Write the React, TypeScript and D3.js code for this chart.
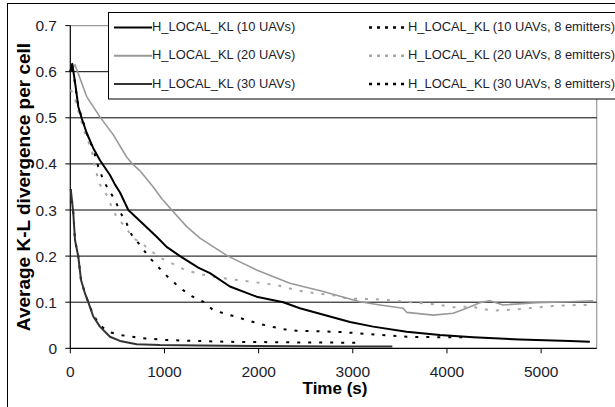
import React from "react";
import * as d3 from "d3";

const xTicks = [0, 1000, 2000, 3000, 4000, 5000];
const yTicks = [0, 0.1, 0.2, 0.3, 0.4, 0.5, 0.6, 0.7];
const yTickLabels = ["0", "0.1", "0.2", "0.3", "0.4", "0.5", "0.6", "0.7"];

const uav10: [number, number][] = [[0,0.60],[21,0.617],[57,0.567],[85,0.524],[121,0.499],[174,0.467],[244,0.434],[315,0.408],[421,0.376],[475,0.355],[528,0.338],[616,0.300],[740,0.276],[917,0.242],[1023,0.220],[1165,0.200],[1359,0.175],[1483,0.163],[1695,0.134],[1978,0.112],[2261,0.100],[2438,0.087],[2757,0.069],[2970,0.057],[3216,0.047],[3571,0.036],[3925,0.029],[4278,0.024],[4774,0.019],[5305,0.016],[5517,0.014]];
const uav20: [number, number][] = [[0,0.60],[50,0.615],[174,0.546],[315,0.502],[457,0.463],[598,0.415],[660,0.400],[740,0.385],[881,0.350],[970,0.325],[1077,0.300],[1236,0.264],[1377,0.239],[1483,0.225],[1674,0.200],[1978,0.170],[2332,0.141],[2686,0.123],[2970,0.107],[3075,0.101],[3288,0.094],[3535,0.087],[3571,0.078],[3854,0.072],[4066,0.076],[4208,0.087],[4349,0.099],[4455,0.103],[4597,0.094],[4951,0.099],[5305,0.101],[5552,0.103]];
const uav30: [number, number][] = [[5,0.345],[32,0.293],[50,0.235],[85,0.199],[114,0.148],[156,0.119],[191,0.100],[244,0.069],[315,0.047],[421,0.025],[528,0.016],[705,0.009],[952,0.007],[1377,0.006],[2000,0.005],[2800,0.004],[3420,0.004]];
const uav10e: [number, number][] = [[0,0.60],[21,0.615],[85,0.524],[121,0.502],[174,0.466],[244,0.432],[297,0.394],[350,0.365],[403,0.345],[475,0.322],[528,0.296],[598,0.271],[652,0.246],[740,0.224],[839,0.197],[945,0.174],[1040,0.154],[1165,0.131],[1289,0.113],[1412,0.101],[1518,0.083],[1660,0.074],[1783,0.067],[1908,0.059],[2032,0.052],[2155,0.046],[2279,0.041],[2403,0.038],[2651,0.037],[2898,0.035],[3288,0.029],[3571,0.025],[3996,0.024],[4170,0.024]];
const uav20e: [number, number][] = [[0,0.56],[30,0.555],[103,0.502],[156,0.466],[227,0.430],[262,0.394],[297,0.365],[315,0.355],[386,0.333],[439,0.307],[492,0.285],[581,0.264],[669,0.239],[758,0.228],[864,0.210],[970,0.195],[1111,0.181],[1218,0.170],[1377,0.161],[1624,0.152],[1978,0.143],[2191,0.137],[2403,0.126],[2616,0.119],[2828,0.114],[2934,0.108],[3288,0.106],[3571,0.101],[3925,0.094],[4066,0.089],[4278,0.091],[4349,0.085],[4526,0.082],[4774,0.085],[5128,0.092],[5411,0.094],[5552,0.094]];
const uav30e: [number, number][] = [[5,0.345],[32,0.293],[50,0.235],[85,0.199],[114,0.148],[156,0.119],[191,0.100],[244,0.072],[315,0.050],[403,0.036],[528,0.029],[652,0.025],[775,0.022],[1023,0.018],[1306,0.016],[1700,0.014],[2300,0.013],[3040,0.012]];

const seriesNames = [
  "H_LOCAL_KL (10 UAVs)",
  "H_LOCAL_KL (20 UAVs)",
  "H_LOCAL_KL (30 UAVs)",
  "H_LOCAL_KL (10 UAVs, 8 emitters)",
  "H_LOCAL_KL (20 UAVs, 8 emitters)",
  "H_LOCAL_KL (30 UAVs, 8 emitters)",
];

const TXT = "#1c1c2c";
const FONT = "Liberation Sans, Arial, sans-serif";

export default function App() {
  const x = d3.scaleLinear().domain([0, 5590]).range([70.3, 596.7]);
  const y = d3.scaleLinear().domain([0, 0.7]).range([348.3, 25.6]);
  const line = d3.line<[number, number]>().x(d => x(d[0])).y(d => y(d[1]));

  const series = [
    { data: uav20e, color: "#a8a8a8", w: 2, dash: "3,8" },
    { data: uav20, color: "#999", w: 1.6, dash: undefined },
    { data: uav10e, color: "#000", w: 2, dash: "3,8" },
    { data: uav30e, color: "#000", w: 2, dash: "3,8" },
    { data: uav10, color: "#000", w: 2, dash: undefined },
    { data: uav30, color: "#333", w: 2, dash: undefined },
  ];

  const legendStyles = [
    { color: "#000", w: 2, dash: undefined },
    { color: "#999", w: 2, dash: undefined },
    { color: "#333", w: 2, dash: undefined },
    { color: "#000", w: 2.5, dash: "3,5" },
    { color: "#a8a8a8", w: 2.5, dash: "3,5" },
    { color: "#000", w: 2.5, dash: "3,5" },
  ];
  const rowY = [27.5, 55.7, 84];
  const x0 = x.range()[0];
  const x1 = x.range()[1];

  return (
    <svg width={615} height={407} style={{ position: "absolute", left: 0, top: 0, background: "#fff" }} fontFamily={FONT}>
      <rect x={0} y={0} width={615} height={407} fill="#fff" />
      <rect x={7.5} y={3.5} width={640} height={440} fill="none" stroke="#000" strokeWidth={1} />
      <line x1={x0} x2={x1} y1={y(0.7)} y2={y(0.7)} stroke="#999" strokeWidth={1.2} />
      <line x1={x1} x2={x1} y1={y(0.7)} y2={y(0)} stroke="#999" strokeWidth={1.2} />
      {yTicks.slice(1, 7).map(t => (
        <line key={t} x1={x0} x2={x1} y1={y(t)} y2={y(t)} stroke="#000" strokeWidth={1} />
      ))}
      <line x1={x0} x2={x0} y1={y(0.7)} y2={y(0)} stroke="#000" strokeWidth={1.2} />
      {yTicks.map((t, i) => (
        <g key={t}>
          <line x1={x0 - 5} x2={x0} y1={y(t)} y2={y(t)} stroke="#000" strokeWidth={1} />
          <text x={57} y={y(t)} dy="0.36em" textAnchor="end" fontSize={15.5} fill={TXT}>{yTickLabels[i]}</text>
        </g>
      ))}
      <line x1={x0} x2={x1} y1={y(0)} y2={y(0)} stroke="#000" strokeWidth={1.2} />
      {xTicks.map(t => (
        <g key={t}>
          <line x1={x(t)} x2={x(t)} y1={y(0)} y2={y(0) + 5} stroke="#000" strokeWidth={1} />
          <text x={x(t)} y={376.7} textAnchor="middle" fontSize={15.5} fill={TXT}>{t}</text>
        </g>
      ))}
      {series.map((s, i) => (
        <path key={i} d={line(s.data) || ""} fill="none" stroke={s.color} strokeWidth={s.w} strokeDasharray={s.dash} strokeLinejoin="round" />
      ))}
      <text x={335} y={394} textAnchor="middle" fontSize={17} fontWeight="bold" fill="#000">Time (s)</text>
      <text transform="translate(30,187) rotate(-90)" textAnchor="middle" fontSize={19} fontWeight="bold" fill="#000">Average K-L divergence per cell</text>
      <rect x={108.5} y={12.5} width={540} height={86.5} fill="#fff" stroke="#000" strokeWidth={1} />
      {seriesNames.map((n, i) => {
        const col = i < 3 ? 0 : 1;
        const r = i % 3;
        const lx0 = col === 0 ? 114 : 369;
        const lx1 = col === 0 ? 152 : 405;
        const tx = col === 0 ? 152 : 408;
        const st = legendStyles[i];
        return (
          <g key={n}>
            <line x1={lx0} x2={lx1} y1={rowY[r]} y2={rowY[r]} stroke={st.color} strokeWidth={st.w} strokeDasharray={st.dash} />
            <text x={tx} y={rowY[r] + 3.6} fontSize={12.9} fill={TXT}>{n}</text>
          </g>
        );
      })}
    </svg>
  );
}
